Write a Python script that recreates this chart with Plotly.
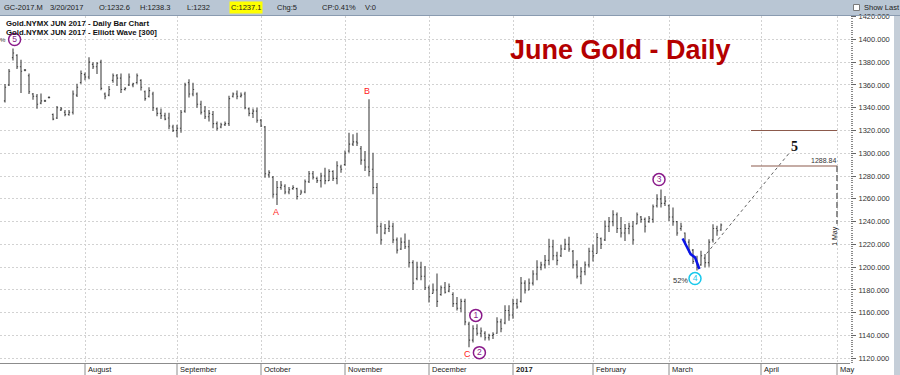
import plotly.graph_objects as go

# ---------------- data ----------------
bar_index = list(range(180))  # trading days, 0 = 2016-07-01 ... 179 = 2017-03-20

highs = [1360.7, 1374, 1392, 1387, 1382, 1374, 1370, 1353, 1352, 1352.5,
         1347, 1350, 1335, 1341.5, 1340.6, 1338, 1338, 1355, 1361, 1372.6,
         1371, 1384.4, 1380, 1380, 1382, 1353.4, 1359, 1370, 1369.6, 1370,
         1358, 1370, 1362, 1370, 1365, 1355, 1358, 1354, 1340, 1339.4,
         1335.6, 1335.6, 1325, 1325, 1338, 1362, 1365, 1362, 1353.4, 1346,
         1341.5, 1338, 1337, 1328, 1326.7, 1328, 1350.6, 1353.4, 1355, 1353.4,
         1354, 1340, 1339.4, 1340, 1330, 1324, 1285, 1280, 1275.6, 1275.6,
         1272.7, 1270.3, 1272, 1269.7, 1268, 1277, 1284.4, 1284.4, 1279, 1283,
         1287.3, 1286, 1285, 1293, 1290, 1302.5, 1318, 1316.6, 1318, 1306.4,
         1302, 1347.4, 1300.5, 1273.8, 1239, 1238, 1241, 1239, 1226, 1226,
         1229.5, 1224, 1206, 1204.7, 1204.7, 1201, 1184, 1185.6, 1194.4, 1184,
         1187, 1185.6, 1178, 1173.8, 1172.4, 1172.4, 1152, 1149, 1150, 1147,
         1143.8, 1141.5, 1143, 1156, 1154.7, 1166.5, 1166.5, 1172.4, 1172.4, 1191.5,
         1188.5, 1190, 1197.4, 1206, 1204.7, 1210.6, 1225, 1224, 1213.5, 1219.4,
         1225, 1226.8, 1215, 1206, 1200, 1205, 1217, 1220, 1230, 1226,
         1241, 1244, 1250, 1248, 1244, 1238, 1239, 1240.6, 1248, 1245,
         1243.6, 1245, 1255, 1264, 1268.3, 1262.5, 1255, 1252.3, 1240.6, 1239,
         1230.5, 1224.6, 1216, 1210, 1214.4, 1211.5, 1224.6, 1237.7, 1236.3, 1238.3]

lows = [1344.5, 1359, 1381.5, 1374, 1353, 1372, 1352, 1347, 1339, 1343,
        1345, 1348, 1329, 1330, 1337, 1332.6, 1333, 1334, 1349.5, 1361,
        1364, 1365, 1374, 1369.6, 1355.4, 1347.4, 1350, 1362, 1359, 1353,
        1355, 1359, 1358, 1361, 1355, 1346, 1349, 1337, 1332.6, 1330,
        1329, 1321, 1318.7, 1314, 1318, 1335.6, 1349, 1350, 1340, 1334,
        1330, 1328, 1322, 1320, 1322, 1324, 1324, 1349, 1347.4, 1349,
        1338.6, 1332.6, 1331, 1326.7, 1323, 1278.5, 1278.5, 1261, 1254.5, 1268,
        1264, 1264, 1268, 1259.5, 1264, 1265, 1274, 1277, 1274, 1270,
        1272.7, 1275.6, 1275.6, 1272.7, 1283, 1289, 1300.5, 1306.4, 1306.4, 1290,
        1284.4, 1280, 1264, 1229.3, 1220, 1229, 1231, 1221, 1212, 1215,
        1216, 1200, 1180, 1188.5, 1188.5, 1180, 1169, 1176.8, 1165, 1175,
        1176.8, 1178, 1165, 1162, 1160.6, 1149, 1129.7, 1134, 1140, 1138.5,
        1135.6, 1135.6, 1137, 1141.5, 1143, 1150, 1153, 1154.7, 1163.5, 1169,
        1176.8, 1179.7, 1184, 1188.5, 1197.4, 1198.8, 1201.7, 1206, 1201.7, 1209,
        1215, 1213.5, 1198.8, 1190, 1185, 1193, 1200, 1205, 1212, 1216,
        1223, 1231, 1236, 1230, 1226, 1223, 1229, 1220, 1237.7, 1239,
        1230.5, 1239, 1239, 1252.3, 1252.3, 1253.8, 1240.6, 1236.3, 1227.5, 1232,
        1220, 1213, 1202.7, 1197, 1201.3, 1200, 1200.4, 1221.7, 1227.5, 1232]

opens = [1346, 1360, 1384, 1386, 1376, 1373, 1368, 1352, 1350, 1344,
         1346, 1349, 1334, 1331, 1338, 1336, 1334, 1336, 1351, 1362,
         1369, 1367, 1378, 1376, 1380, 1352, 1351, 1364, 1368, 1366,
         1356, 1360, 1360, 1362, 1364, 1354, 1350, 1352, 1339, 1335,
         1333, 1331, 1323, 1320, 1322, 1337, 1362, 1352, 1352, 1343,
         1337, 1332, 1334, 1326, 1323, 1325, 1326, 1350, 1352, 1350,
         1352, 1339, 1335, 1337, 1329, 1323, 1281, 1279, 1264, 1270,
         1271, 1266, 1269, 1269, 1264, 1266, 1275, 1282, 1278, 1276,
         1280, 1276, 1284, 1278, 1288, 1290, 1302, 1308, 1310, 1304,
         1294, 1288, 1286, 1270, 1236, 1230, 1234, 1236, 1224, 1216,
         1222, 1218, 1204, 1190, 1200, 1192, 1182, 1177, 1180, 1176,
         1182, 1179, 1176, 1168, 1164, 1170, 1150, 1136, 1146, 1142,
         1142, 1138, 1140, 1142, 1152, 1151, 1162, 1158, 1168, 1170,
         1186, 1180, 1186, 1194, 1200, 1202, 1206, 1218, 1210, 1210,
         1216, 1220, 1214, 1202, 1192, 1196, 1202, 1214, 1212, 1225,
         1224, 1236, 1240, 1246, 1234, 1230, 1234, 1236, 1238, 1244,
         1242, 1240, 1242, 1254, 1260, 1256, 1254, 1244, 1240, 1234,
         1230, 1222, 1215, 1206, 1202, 1208, 1204, 1224, 1234, 1232.6]

closes = [1358, 1372, 1388, 1376, 1372, 1373, 1354, 1350, 1343, 1346,
          1346, 1349, 1330, 1340, 1339, 1334, 1336, 1352, 1358, 1370,
          1367, 1380, 1376, 1379, 1357, 1350, 1356, 1368, 1366, 1356,
          1357, 1367, 1361, 1368, 1358, 1348, 1355, 1340, 1335, 1333,
          1330, 1324, 1320, 1322, 1336, 1360, 1352, 1356, 1343, 1336,
          1332, 1335, 1326, 1322, 1325, 1326, 1348, 1352, 1350, 1351,
          1340, 1335, 1337, 1329, 1324, 1282, 1283, 1264, 1270, 1272,
          1266, 1268, 1270, 1262, 1266, 1275, 1282, 1279, 1276, 1280,
          1276, 1284, 1278, 1289, 1286, 1300, 1308, 1310, 1309, 1294,
          1288, 1284, 1270, 1236, 1224, 1234, 1236, 1224, 1215, 1222,
          1218, 1204, 1186, 1200, 1192, 1182, 1174, 1180, 1170, 1182,
          1178, 1183, 1168, 1164, 1170, 1152, 1136, 1146, 1142, 1144,
          1138, 1140, 1141, 1152, 1146, 1162, 1158, 1168, 1165, 1186,
          1180, 1186, 1194, 1200, 1202, 1206, 1218, 1210, 1206, 1216,
          1220, 1216, 1202, 1192, 1196, 1202, 1214, 1210, 1226, 1220,
          1236, 1240, 1246, 1234, 1230, 1234, 1236, 1224, 1246, 1242,
          1236, 1243, 1253, 1260, 1256, 1258, 1244, 1240, 1230, 1236,
          1222, 1215, 1205, 1200, 1210, 1204, 1222, 1234, 1232, 1237.1]

month_index = [20, 43, 64, 85, 106, 127, 147, 166, 189, 208]
month_labels = ["August", "September", "October", "November", "December",
                "<b>2017</b>", "February", "March", "April", "May"]

wave_labels = ["5", "1", "2", "3"]
wave_x = [2.4, 117.7, 118.6, 163.5]
wave_y = [1399.8, 1157.7, 1125.0, 1276.9]
wave4_label = ["4"]
wave4_x = [172.5]
wave4_y = [1190.0]

abc_labels = ["A", "B", "C"]
abc_x = [67.75, 90.6, 115.6]
abc_y = [1248.4, 1354.6, 1123.5]

blue_x = [169.4, 171.4, 172.5, 173.6]
blue_y = [1225.2, 1211.5, 1208.6, 1198.4]

proj_x = [175.4, 196.25]
proj_y = [1212.0, 1301.0]

target_levels = [1320.0, 1288.84]
target_start = 186.5
may_index = 208

header_texts = ["GC-2017.M", "3/20/2017", "O:1232.6", "H:1238.3", "L:1232",
                "C:1237.1", "Chg:5", "CP:0.41%", "V:0"]
header_px = [2, 48, 97, 138, 185, 229, 275, 320, 363]

legend_lines = ["Gold.NYMX JUN 2017 - Daily Bar Chart",
                "Gold.NYMX JUN 2017 - Elliott Wave [300]"]

# ---------------- geometry helpers ----------------
W, H = 900, 375
ML, MR, MT, MB = 0, 50, 16, 12
PW = W - ML - MR
PH = H - MT - MB
XMIN, XMAX = -1.25, 211.25
YMIN, YMAX = 1115.9, 1420.5

def pxp(px):
    return (px - ML) / PW

def pyp(py):
    return (H - MB - py) / PH

def xp(i):
    return (i - XMIN) / (XMAX - XMIN)

BAR = "#444444"
PURPLE = "#8a1a8a"
CYAN = "#18c8ec"
RED = "#ff2020"
BROWN = "#8c5a4c"
GRID = "#d2d2d2"
FONT = "Liberation Sans"

fig = go.Figure()

fig.add_trace(go.Ohlc(
    x=bar_index, open=opens, high=highs, low=lows, close=closes,
    increasing=dict(line=dict(color=BAR, width=1.1)),
    decreasing=dict(line=dict(color=BAR, width=1.1)),
    tickwidth=0.28, hoverinfo="skip", showlegend=False))

fig.add_trace(go.Scatter(x=proj_x, y=proj_y, mode="lines",
                         line=dict(color="#606060", width=1, dash="dot"),
                         hoverinfo="skip", showlegend=False))

fig.add_trace(go.Scatter(x=blue_x, y=blue_y, mode="lines",
                         line=dict(color="#0a14e6", width=2.5),
                         hoverinfo="skip", showlegend=False))

fig.add_trace(go.Scatter(
    x=wave_x, y=wave_y, mode="markers+text", text=wave_labels,
    textposition="middle center",
    textfont=dict(family=FONT, size=8.5, color=PURPLE),
    marker=dict(symbol="circle", size=12, color="white",
                line=dict(color=PURPLE, width=1.5)),
    cliponaxis=False, hoverinfo="skip", showlegend=False))

fig.add_trace(go.Scatter(
    x=wave4_x, y=wave4_y, mode="markers+text", text=wave4_label,
    textposition="middle center",
    textfont=dict(family=FONT, size=8.5, color=CYAN),
    marker=dict(symbol="circle", size=12, color="white",
                line=dict(color=CYAN, width=1.5)),
    cliponaxis=False, hoverinfo="skip", showlegend=False))

shapes = []
# header band
shapes.append(dict(type="rect", xref="paper", yref="paper",
                   x0=pxp(0), x1=pxp(W), y0=pyp(15), y1=pyp(0),
                   fillcolor="#b9c6d4", line=dict(width=0), layer="below"))
shapes.append(dict(type="line", xref="paper", yref="paper",
                   x0=pxp(0), x1=pxp(W), y0=pyp(15.5), y1=pyp(15.5),
                   line=dict(color="#8a9bb0", width=1)))
# right strip
shapes.append(dict(type="rect", xref="paper", yref="paper",
                   x0=pxp(894), x1=pxp(W), y0=pyp(H), y1=pyp(16),
                   fillcolor="#c5ced8", line=dict(width=0), layer="below"))
# show last checkbox
shapes.append(dict(type="rect", xref="paper", yref="paper",
                   x0=pxp(853.5), x1=pxp(859.5), y0=pyp(10.5), y1=pyp(4.5),
                   fillcolor="white", line=dict(color="#7a7a7a", width=1)))
# bottom band line
shapes.append(dict(type="line", xref="paper", yref="paper",
                   x0=pxp(0), x1=pxp(850), y0=pyp(363.5), y1=pyp(363.5),
                   line=dict(color="#8c8c8c", width=1)))
# month separators in band
for mi in month_index:
    shapes.append(dict(type="line", xref="paper", yref="paper",
                       x0=xp(mi), x1=xp(mi), y0=pyp(364), y1=pyp(375),
                       line=dict(color="#8c8c8c", width=1)))
# target lines
for lv in target_levels:
    shapes.append(dict(type="line", xref="x", yref="y",
                       x0=target_start, x1=may_index, y0=lv, y1=lv,
                       line=dict(color=BROWN, width=1.2), layer="above"))
# 1 May marker
shapes.append(dict(type="line", xref="x", yref="y",
                   x0=may_index, x1=may_index, y0=target_levels[1], y1=1238,
                   line=dict(color="#6e6e6e", width=1.5, dash="6px,3px"),
                   layer="above"))

ann = []
ann.append(dict(text="<b>June Gold - Daily</b>", xref="paper", yref="paper",
                x=pxp(620), y=pyp(50), xanchor="center", yanchor="middle",
                showarrow=False, font=dict(family=FONT, size=27, color="#b40000")))
for k, t in enumerate(legend_lines):
    ann.append(dict(text="<b>" + t + "</b>", xref="paper", yref="paper",
                    x=pxp(4), y=pyp(23.5 + 9.5 * k), xanchor="left", yanchor="middle",
                    showarrow=False, font=dict(family=FONT, size=7.8, color="#111")))
for t, p in zip(header_texts, header_px):
    bg = "#ffff00" if t.startswith("C:") else "rgba(0,0,0,0)"
    ann.append(dict(text=t, xref="paper", yref="paper",
                    x=pxp(p), y=pyp(7.5), xanchor="left", yanchor="middle",
                    showarrow=False, bgcolor=bg, borderpad=1,
                    font=dict(family=FONT, size=7.5, color="#222")))
ann.append(dict(text="Show Last", xref="paper", yref="paper",
                x=pxp(862), y=pyp(7.5), xanchor="left", yanchor="middle",
                showarrow=False, font=dict(family=FONT, size=7.5, color="#222")))
for mi, ml in zip(month_index, month_labels):
    ann.append(dict(text=ml, xref="x", yref="paper",
                    x=mi, y=pyp(369.5), xanchor="left", yanchor="middle", xshift=1,
                    showarrow=False, font=dict(family=FONT, size=7.5, color="#222")))
for t, x, y in zip(abc_labels, abc_x, abc_y):
    ann.append(dict(text=t, x=x, y=y, xref="x", yref="y", showarrow=False,
                    xanchor="center", yanchor="middle",
                    font=dict(family=FONT, size=9, color=RED)))
ann.append(dict(text="52%", x=168.75, y=1188.5, xref="x", yref="y", showarrow=False,
                xanchor="center", yanchor="middle",
                font=dict(family=FONT, size=7.5, color="#333")))
ann.append(dict(text="%", x=-0.4, y=1399.3, xref="x", yref="y", showarrow=False,
                xanchor="center", yanchor="middle",
                font=dict(family=FONT, size=6, color="#333")))
ann.append(dict(text="<b>5</b>", x=197.3, y=1306, xref="x", yref="y", showarrow=False,
                xanchor="center", yanchor="middle",
                font=dict(family="Liberation Serif", size=14, color="#111")))
ann.append(dict(text="1288.84", x=may_index, y=target_levels[1], xref="x", yref="y",
                showarrow=False, xanchor="right", yanchor="bottom", xshift=1,
                font=dict(family=FONT, size=7, color="#333")))
ann.append(dict(text="1 May", x=may_index, y=1227.5, xref="x", yref="y",
                showarrow=False, textangle=-90, xanchor="center", yanchor="middle",
                xshift=-2, font=dict(family=FONT, size=7, color="#222")))

fig.update_layout(
    width=W, height=H,
    margin=dict(l=ML, r=MR, t=MT, b=MB),
    paper_bgcolor="white", plot_bgcolor="white",
    showlegend=False,
    shapes=shapes, annotations=ann,
    xaxis=dict(range=[XMIN, XMAX], tickmode="array", tickvals=month_index,
               showticklabels=False, ticks="", showgrid=True, gridcolor=GRID,
               griddash="2px,2px", gridwidth=1, zeroline=False, showline=False,
               rangeslider=dict(visible=False), fixedrange=True),
    yaxis=dict(range=[YMIN, YMAX], side="right", tickmode="linear", tick0=1120,
               dtick=20, tickformat=".3f", showgrid=True, gridcolor=GRID,
               griddash="2px,2px", gridwidth=1, zeroline=False, showline=False,
               ticks="outside", ticklen=5, tickcolor="#666", tickwidth=1,
               ticklabelstandoff=1,
               tickfont=dict(family=FONT, size=7.5, color="#333"),
               minor=dict(tickmode="linear", tick0=1120, dtick=2, ticks="outside",
                          ticklen=2, tickcolor="#8a8a8a", showgrid=False),
               fixedrange=True),
)

fig.write_html("out.html", config={"displayModeBar": False},
               post_script="document.body.style.margin='0';"
                           "document.body.style.overflow='hidden';")
